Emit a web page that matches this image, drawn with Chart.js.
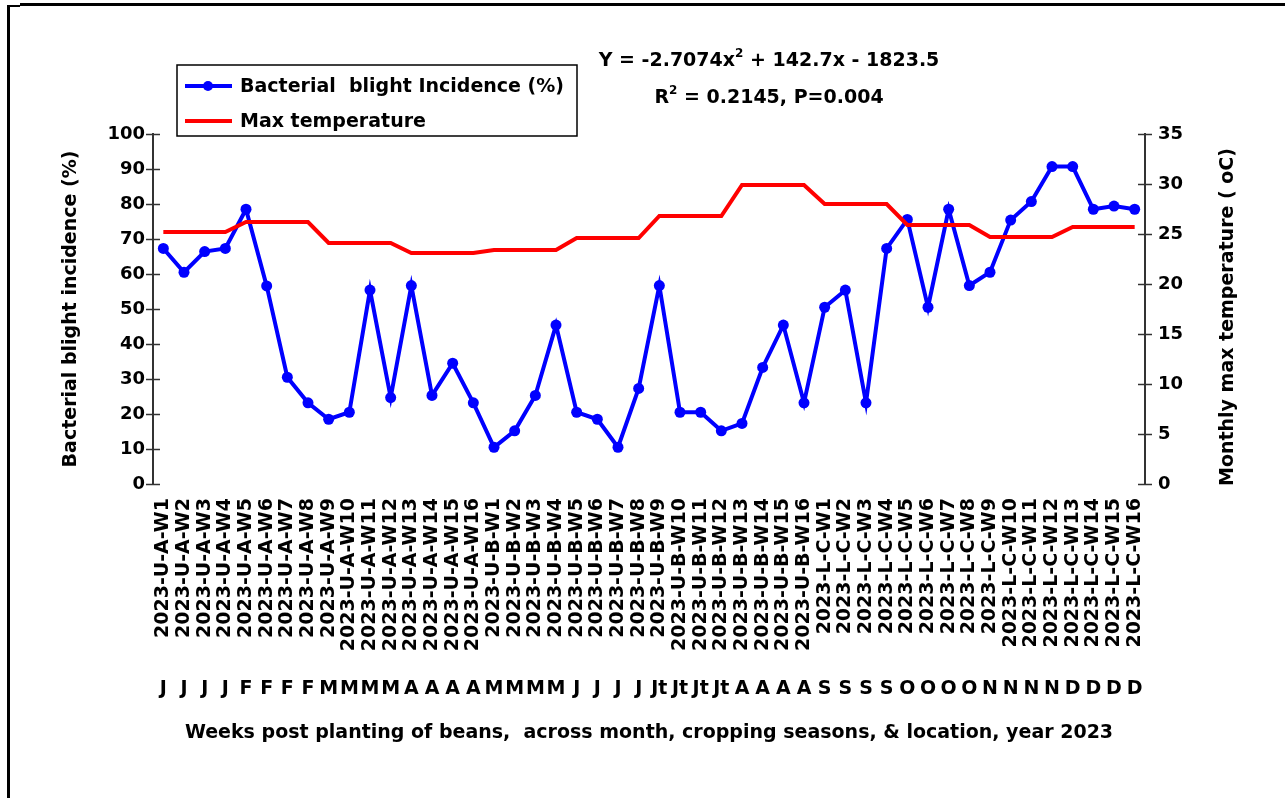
<!DOCTYPE html>
<html>
<head>
<meta charset="utf-8">
<script src="https://cdn.jsdelivr.net/npm/chart.js@4.4.1/dist/chart.umd.min.js"></script>
<style>
  html, body { margin: 0; padding: 0; background: #fff; }
  #wrap { position: relative; width: 1285px; height: 798px; }
  .frame { position: absolute; background: #000; }
</style>
</head>
<body>
<div id="wrap">
  <canvas id="chart"></canvas>
  <div class="frame" style="left:20px;top:3px;width:1265px;height:3px"></div>
  <div class="frame" style="left:7px;top:5px;width:3px;height:793px"></div>
  <div class="frame" style="left:7px;top:5px;width:13px;height:2px"></div>
</div>
<script>
const weekLabels = [
  "2023-U-A-W1", "2023-U-A-W2", "2023-U-A-W3", "2023-U-A-W4",
  "2023-U-A-W5", "2023-U-A-W6", "2023-U-A-W7", "2023-U-A-W8",
  "2023-U-A-W9", "2023-U-A-W10", "2023-U-A-W11", "2023-U-A-W12",
  "2023-U-A-W13", "2023-U-A-W14", "2023-U-A-W15", "2023-U-A-W16",
  "2023-U-B-W1", "2023-U-B-W2", "2023-U-B-W3", "2023-U-B-W4",
  "2023-U-B-W5", "2023-U-B-W6", "2023-U-B-W7", "2023-U-B-W8",
  "2023-U-B-W9", "2023-U-B-W10", "2023-U-B-W11", "2023-U-B-W12",
  "2023-U-B-W13", "2023-U-B-W14", "2023-U-B-W15", "2023-U-B-W16",
  "2023-L-C-W1", "2023-L-C-W2", "2023-L-C-W3", "2023-L-C-W4",
  "2023-L-C-W5", "2023-L-C-W6", "2023-L-C-W7", "2023-L-C-W8",
  "2023-L-C-W9", "2023-L-C-W10", "2023-L-C-W11", "2023-L-C-W12",
  "2023-L-C-W13", "2023-L-C-W14", "2023-L-C-W15", "2023-L-C-W16"
];

const monthLetters = [
  "J", "J", "J", "J", "F", "F", "F", "F", "M", "M", "M", "M",
  "A", "A", "A", "A", "M", "M", "M", "M", "J", "J", "J", "J",
  "Jt", "Jt", "Jt", "Jt", "A", "A", "A", "A", "S", "S", "S", "S",
  "O", "O", "O", "O", "N", "N", "N", "N", "D", "D", "D", "D"
];

const blightIncidence = [
  67.3, 60.5, 66.4, 67.3, 78.5, 56.6, 30.5, 23.2, 18.5, 20.5, 55.4, 24.7,
  56.7, 25.3, 34.5, 23.2, 10.5, 15.2, 25.3, 45.4, 20.5, 18.5, 10.5, 27.3,
  56.7, 20.5, 20.5, 15.2, 17.3, 33.3, 45.4, 23.2, 50.5, 55.4, 23.2, 67.3,
  75.6, 50.5, 78.5, 56.7, 60.5, 75.4, 80.7, 90.7, 90.7, 78.5, 79.4, 78.5
];

const maxTemperature = [
  25.2, 25.2, 25.2, 25.2, 26.2, 26.2, 26.2, 26.2, 24.1, 24.1, 24.1, 24.1,
  23.1, 23.1, 23.1, 23.1, 23.4, 23.4, 23.4, 23.4, 24.6, 24.6, 24.6, 24.6,
  26.8, 26.8, 26.8, 26.8, 29.9, 29.9, 29.9, 29.9, 28.0, 28.0, 28.0, 28.0,
  25.9, 25.9, 25.9, 25.9, 24.7, 24.7, 24.7, 24.7, 25.7, 25.7, 25.7, 25.7
];

const FONT = "DejaVu Sans";
const boldFont = size => ({ family: FONT, size: size, weight: "bold" });

// cross ticks on both value axes
const axisTicks = {
  id: "axisTicks",
  beforeDatasetsDraw(chart) {
    const ctx = chart.ctx;
    ctx.save();
    ctx.strokeStyle = "#333";
    ctx.lineWidth = 1.5;
    ["y", "y1"].forEach(id => {
      const s = chart.scales[id];
      const x = id === "y" ? s.right : s.left;
      s.ticks.forEach((t, i) => {
        const py = Math.round(s.getPixelForTick(i)) + 0.5;
        ctx.beginPath();
        ctx.moveTo(x - 7, py);
        ctx.lineTo(x + 7, py);
        ctx.stroke();
      });
    });
    ctx.restore();
  }
};

// legend box top-left, above the plot
const boxLegend = {
  id: "boxLegend",
  afterDraw(chart) {
    const ctx = chart.ctx;
    ctx.save();
    ctx.strokeStyle = "#000";
    ctx.lineWidth = 1.5;
    ctx.strokeRect(177, 65, 400, 71);
    ctx.font = "bold 19px '" + FONT + "'";
    ctx.textBaseline = "middle";
    ctx.fillStyle = "#000";
    chart.data.datasets.forEach((ds, i) => {
      const y = 86 + i * 35;
      ctx.strokeStyle = ds.borderColor;
      ctx.lineWidth = 4;
      ctx.beginPath();
      ctx.moveTo(185, y);
      ctx.lineTo(232, y);
      ctx.stroke();
      if (ds.pointRadius > 0) {
        ctx.fillStyle = ds.pointBackgroundColor;
        ctx.beginPath();
        ctx.arc(208, y, 5, 0, Math.PI * 2);
        ctx.fill();
      }
      ctx.fillStyle = "#000";
      ctx.fillText(ds.label, 240, y + 1);
    });
    ctx.restore();
  }
};

// regression equation, right axis title
const annotations = {
  id: "annotations",
  afterDraw(chart) {
    const ctx = chart.ctx;
    ctx.save();
    ctx.fillStyle = "#000";
    ctx.textBaseline = "middle";
    const big = "bold 19px '" + FONT + "'";
    const small = "bold 12px '" + FONT + "'";
    const drawSup = (parts, cx, y) => {
      let w = 0;
      parts.forEach(p => { ctx.font = p.sup ? small : big; w += ctx.measureText(p.t).width; });
      let x = cx - w / 2;
      ctx.textAlign = "left";
      parts.forEach(p => {
        ctx.font = p.sup ? small : big;
        ctx.fillText(p.t, x, p.sup ? y - 7 : y);
        x += ctx.measureText(p.t).width;
      });
    };
    drawSup([{ t: "Y = -2.7074x" }, { t: "2", sup: true }, { t: " + 142.7x - 1823.5" }], 769, 61);
    drawSup([{ t: "R" }, { t: "2", sup: true }, { t: " = 0.2145, P=0.004" }], 769, 98);

    const s = chart.scales.y1;
    ctx.font = big;
    ctx.textAlign = "center";
    ctx.translate(1228, (s.top + s.bottom) / 2 + 8);
    ctx.rotate(-Math.PI / 2);
    ctx.fillText("Monthly max temperature ( oC)", 0, 0);
    ctx.restore();
  }
};

new Chart(document.getElementById("chart"), {
  type: "line",
  data: {
    labels: weekLabels,
    datasets: [
      {
        label: "Bacterial  blight Incidence (%)",
        data: blightIncidence,
        yAxisID: "y",
        borderColor: "#0000ff",
        backgroundColor: "#0000ff",
        pointBackgroundColor: "#0000ff",
        pointBorderWidth: 0,
        pointRadius: 5.5,
        borderWidth: 4,
        tension: 0,
        order: 2
      },
      {
        label: "Max temperature",
        data: maxTemperature,
        yAxisID: "y1",
        borderColor: "#ff0000",
        backgroundColor: "#ff0000",
        pointRadius: 0,
        borderWidth: 4,
        tension: 0,
        order: 1
      }
    ]
  },
  options: {
    responsive: true,
    maintainAspectRatio: false,
    animation: false,
    layout: { padding: { left: 50, right: 30, top: 134, bottom: 44 } },
    plugins: { legend: { display: false }, tooltip: { enabled: false } },
    scales: {
      x: {
        type: "category",
        offset: true,
        weight: 0,
        grid: { display: false, drawTicks: false },
        border: { display: false },
        ticks: { autoSkip: false, minRotation: 90, maxRotation: 90, padding: 14, color: "#000", font: boldFont(19) },
        afterFit: s => { s.height = 180; }
      },
      x2: {
        type: "category",
        position: "bottom",
        labels: monthLetters,
        offset: true,
        weight: 1,
        grid: { display: false, drawTicks: false },
        border: { display: false },
        ticks: { autoSkip: false, minRotation: 0, maxRotation: 0, padding: 14, color: "#000", font: boldFont(19) },
        title: {
          display: true,
          text: "Weeks post planting of beans,  across month, cropping seasons, & location, year 2023",
          color: "#000",
          font: boldFont(19),
          padding: { top: 0, bottom: 10 }
        },
        afterFit: s => { s.height = 90; }
      },
      y: {
        position: "left",
        min: 0,
        max: 100,
        grid: { display: false, drawTicks: false },
        border: { display: true, color: "#333", width: 2 },
        ticks: { stepSize: 10, padding: 8, color: "#000", font: boldFont(18) },
        title: {
          display: true,
          text: "Bacterial blight incidence (%)",
          color: "#000",
          font: boldFont(19),
          padding: { top: 10, bottom: 0 }
        },
        afterFit: s => { s.width = 103; }
      },
      y1: {
        position: "right",
        min: 0,
        max: 35,
        grid: { display: false, drawTicks: false },
        border: { display: true, color: "#333", width: 2 },
        ticks: { stepSize: 5, padding: 13, color: "#000", font: boldFont(18) },
        afterFit: s => { s.width = 110; }
      }
    }
  },
  plugins: [axisTicks, boxLegend, annotations]
});
</script>
</body>
</html>
